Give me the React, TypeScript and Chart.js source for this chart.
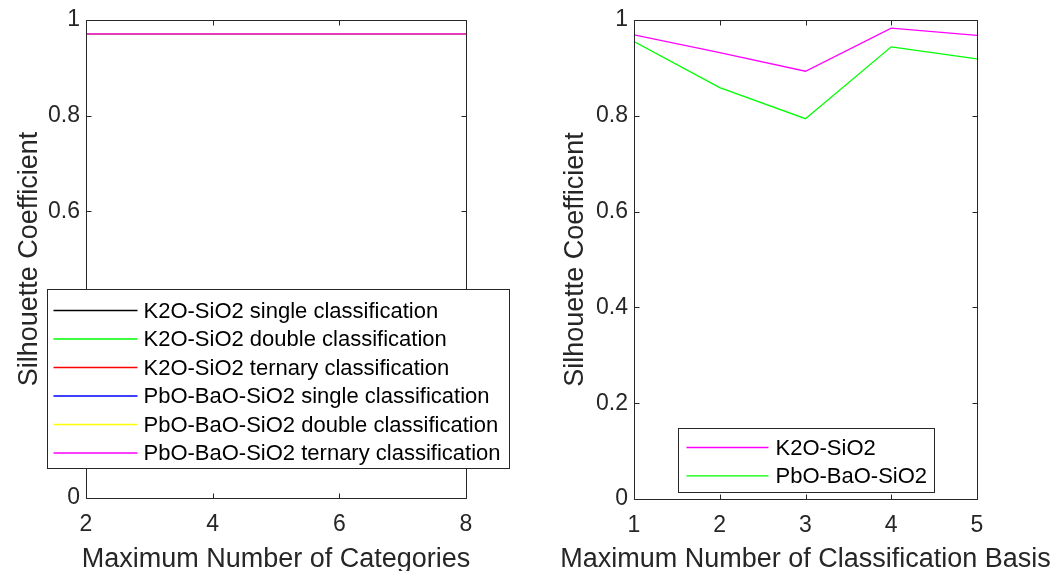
import React, { useEffect, useRef } from "react";
import { Chart, registerables } from "chart.js";
Chart.register(...registerables);

// ---- data ----
const categoriesX = [2, 3, 4, 5, 6, 7, 8];
const k2oSingle = [0.971, 0.971, 0.971, 0.971, 0.971, 0.971, 0.971];
const k2oDouble = [0.971, 0.971, 0.971, 0.971, 0.971, 0.971, 0.971];
const k2oTernary = [0.971, 0.971, 0.971, 0.971, 0.971, 0.971, 0.971];
const pbSingle = [0.971, 0.971, 0.971, 0.971, 0.971, 0.971, 0.971];
const pbDouble = [0.971, 0.971, 0.971, 0.971, 0.971, 0.971, 0.971];
const pbTernary = [0.971, 0.971, 0.971, 0.971, 0.971, 0.971, 0.971];
const leftLabels = [
  "K2O-SiO2 single classification",
  "K2O-SiO2 double classification",
  "K2O-SiO2 ternary classification",
  "PbO-BaO-SiO2 single classification",
  "PbO-BaO-SiO2 double classification",
  "PbO-BaO-SiO2 ternary classification",
];
const leftColors = ["#000000", "#00ff00", "#ff0000", "#0000ff", "#ffff00", "#ff00ff"];

const basisX = [1, 2, 3, 4, 5];
const k2oBasis = [0.969, 0.932, 0.893, 0.983, 0.968];
const pbBasis = [0.955, 0.859, 0.794, 0.944, 0.919];
const rightLabels = ["K2O-SiO2", "PbO-BaO-SiO2"];
const rightColors = ["#ff00ff", "#00ff00"];

const yTickLabels = ["0", "0.2", "0.4", "0.6", "0.8", "1"];
const yTitle = "Silhouette Coefficient";
const leftXTitle = "Maximum Number of Categories";
const rightXTitle = "Maximum Number of Classification Basis";

const FONT = "'Liberation Sans', Arial, sans-serif";
const INK = "#262626";

const boxPlugin = {
  id: "matlabBox",
  afterDatasetsDraw(chart: any) {
    const { ctx, chartArea: a, scales } = chart;
    ctx.save();
    ctx.strokeStyle = INK;
    ctx.lineWidth = 1;
    const L = Math.round(a.left) + 0.5, R = Math.round(a.right) + 0.5;
    const T = Math.round(a.top) + 0.5, B = Math.round(a.bottom) + 0.5;
    ctx.beginPath();
    ctx.rect(L, T, R - L, B - T);
    ctx.stroke();
    const tl = 5;
    ctx.beginPath();
    scales.x.ticks.forEach((t: any) => {
      const px = Math.round(scales.x.getPixelForValue(t.value)) + 0.5;
      ctx.moveTo(px, B); ctx.lineTo(px, B - tl);
      ctx.moveTo(px, T); ctx.lineTo(px, T + tl);
    });
    scales.y.ticks.forEach((t: any) => {
      const py = Math.round(scales.y.getPixelForValue(t.value)) + 0.5;
      ctx.moveTo(L, py); ctx.lineTo(L + tl, py);
      ctx.moveTo(R, py); ctx.lineTo(R - tl, py);
    });
    ctx.stroke();
    ctx.restore();
  },
};

const titlesPlugin = {
  id: "axisTitles",
  afterDraw(chart: any, _args: any, opts: any) {
    const { ctx, chartArea: a } = chart;
    ctx.save();
    ctx.fillStyle = INK;
    ctx.font = `${opts.size}px ${FONT}`;
    ctx.textAlign = "center";
    ctx.textBaseline = "alphabetic";
    ctx.fillText(opts.xText, (a.left + a.right) / 2, opts.xBaseline);
    ctx.translate(a.left - opts.yOffset, (a.top + a.bottom) / 2);
    ctx.rotate(-Math.PI / 2);
    ctx.fillText(opts.yText, 0, 0);
    ctx.restore();
  },
};

const legendPlugin = {
  id: "insideLegend",
  afterDraw(chart: any, _args: any, opts: any) {
    const { ctx, chartArea: a } = chart;
    const ds = chart.data.datasets;
    ctx.save();
    ctx.font = `${opts.fontSize}px ${FONT}`;
    let maxW = 0;
    ds.forEach((d: any) => { maxW = Math.max(maxW, ctx.measureText(d.label).width); });
    const w = Math.round(opts.padL + opts.lineLen + opts.gap + maxW + opts.padR);
    const h = Math.round(opts.padT + opts.rowH * (ds.length - 1) + opts.padB);
    const x = Math.round(a.left + opts.dx) + 0.5;
    const y = Math.round(a.bottom - opts.dyBottom - h) + 0.5;
    ctx.fillStyle = "#ffffff";
    ctx.fillRect(x, y, w, h);
    ctx.strokeStyle = INK;
    ctx.lineWidth = 1;
    ctx.strokeRect(x, y, w, h);
    ctx.textBaseline = "middle";
    ctx.textAlign = "left";
    ds.forEach((d: any, i: number) => {
      const cy = y + opts.padT + i * opts.rowH;
      ctx.strokeStyle = d.borderColor;
      ctx.lineWidth = 1.3;
      ctx.beginPath();
      ctx.moveTo(x + opts.padL, cy);
      ctx.lineTo(x + opts.padL + opts.lineLen, cy);
      ctx.stroke();
      ctx.fillStyle = "#000000";
      ctx.fillText(d.label, x + opts.padL + opts.lineLen + opts.gap, cy + 1);
    });
    ctx.restore();
  },
};

function makeConfig(p: any) {
  const n = p.series.length;
  const datasets = p.series.map((s: number[], i: number) => ({
    label: p.labels[i],
    data: s.map((v, j) => ({ x: p.xs[j], y: v })),
    borderColor: p.colors[i],
    backgroundColor: p.colors[i],
    borderWidth: 1.3,
    pointRadius: 0,
    tension: 0,
    fill: false,
    order: n - 1 - i,
  }));
  return {
    type: "line" as const,
    data: { datasets },
    plugins: [boxPlugin, titlesPlugin, legendPlugin],
    options: {
      animation: false,
      responsive: false,
      maintainAspectRatio: false,
      layout: { padding: { top: p.top, right: p.W - p.right, left: 0, bottom: 0 } },
      plugins: {
        legend: { display: false },
        tooltip: { enabled: false },
        insideLegend: p.legend,
        axisTitles: { size: 27, xText: p.xTitle, yText: yTitle, xBaseline: 567, yOffset: p.yTitleOffset },
      },
      scales: {
        x: {
          type: "linear",
          min: p.xmin,
          max: p.xmax,
          grid: { display: false, drawTicks: false },
          border: { display: false },
          ticks: { stepSize: p.xstep, color: INK, font: { family: FONT, size: 23 }, padding: 13 },
          afterFit: (s: any) => { s.height = p.H - p.bottom; },
        },
        y: {
          type: "linear",
          min: 0,
          max: 1,
          grid: { display: false, drawTicks: false },
          border: { display: false },
          ticks: {
            stepSize: 0.2,
            color: INK,
            font: { family: FONT, size: 23 },
            padding: 6,
            callback: (_v: any, i: number) => yTickLabels[i],
          },
          afterFit: (s: any) => { s.width = p.left; },
        },
      },
    },
  };
}

function Panel(props: any) {
  const ref = useRef<HTMLCanvasElement>(null);
  useEffect(() => {
    const chart = new Chart(ref.current as HTMLCanvasElement, makeConfig(props.p) as any);
    return () => chart.destroy();
  }, []);
  return (
    <canvas
      ref={ref}
      width={props.p.W}
      height={props.p.H}
      style={{ position: "absolute", left: props.x, top: 0, width: props.p.W, height: props.p.H }}
    />
  );
}

const leftPanel = {
  W: 528, H: 571, left: 86, right: 466, top: 20, bottom: 498,
  xs: categoriesX, xmin: 2, xmax: 8, xstep: 2,
  series: [k2oSingle, k2oDouble, k2oTernary, pbSingle, pbDouble, pbTernary],
  labels: leftLabels, colors: leftColors, xTitle: leftXTitle, yTitleOffset: 49,
  legend: { fontSize: 22, dx: -39, dyBottom: 30, padL: 6, lineLen: 84, gap: 6, padR: 9, padT: 21, rowH: 28.5, padB: 15 },
};

const rightPanel = {
  W: 529, H: 571, left: 106, right: 449, top: 20, bottom: 499,
  xs: basisX, xmin: 1, xmax: 5, xstep: 1,
  series: [k2oBasis, pbBasis],
  labels: rightLabels, colors: rightColors, xTitle: rightXTitle, yTitleOffset: 51,
  legend: { fontSize: 22, dx: 44, dyBottom: 7, padL: 8, lineLen: 82, gap: 7, padR: 7, padT: 19, rowH: 28.3, padB: 17 },
};

export default function App() {
  return (
    <div style={{ position: "absolute", left: 0, top: 0, width: 1057, height: 571, background: "#ffffff", overflow: "hidden" }}>
      <Panel p={leftPanel} x={0} />
      <Panel p={rightPanel} x={528} />
    </div>
  );
}
